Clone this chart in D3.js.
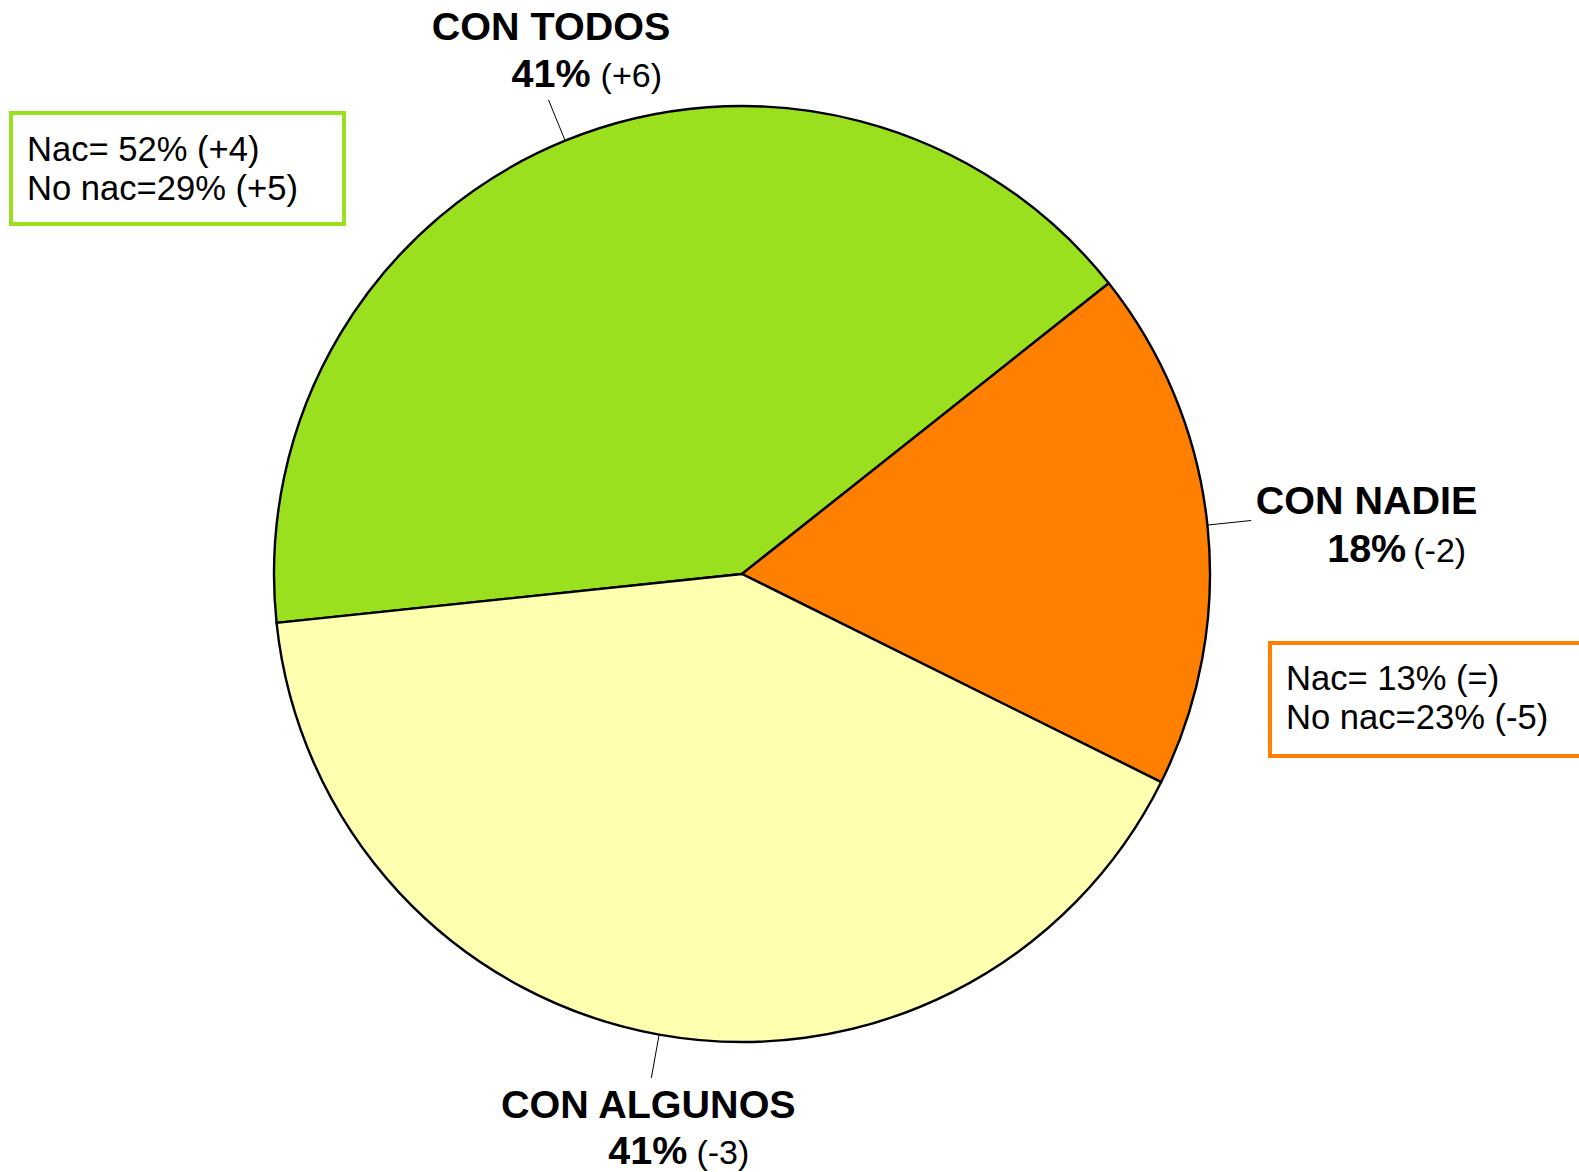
<!DOCTYPE html>
<html>
<head>
<meta charset="utf-8">
<script src="https://cdn.jsdelivr.net/npm/d3@7"></script>
<style>
  html, body { margin: 0; padding: 0; background: #ffffff; }
  svg { display: block; }
  text { font-family: "Liberation Sans", Arial, sans-serif; fill: #000; }
</style>
</head>
<body>
<svg id="chart" width="1579" height="1172"></svg>
<script>
// ---- data ----
const categories = ["CON TODOS", "CON NADIE", "CON ALGUNOS"];
const values = [41, 18, 41];
const changes = ["(+6)", "(-2)", "(-3)"];
const colors = ["#9be01e", "#ff8000", "#ffffb0"];
const boxLines = [
  ["Nac= 52% (+4)", "No nac=29% (+5)"],
  ["Nac= 13% (=)", "No nac=23% (-5)"]
];
const boxColors = ["#9be01e", "#ff8000"];

// ---- layout ----
const cx = 742, cy = 574, R = 468;
const svg = d3.select("#chart");
const g = svg.append("g").attr("transform", `translate(${cx},${cy})`);

const startA = -96 * Math.PI / 180;
const pie = d3.pie().sort(null).value(d => d)
  .startAngle(startA).endAngle(startA + 2 * Math.PI);
const arcs = pie(values);
const arc = d3.arc().innerRadius(0).outerRadius(R);

g.selectAll("path.slice").data(arcs).join("path")
  .attr("class", "slice")
  .attr("d", arc)
  .attr("fill", (d, i) => colors[i])
  .attr("stroke", "#000")
  .attr("stroke-width", 2.4)
  .attr("stroke-linejoin", "round");

// leader lines
const leaderOuter = 512;
function pt(a, r) { return [Math.sin(a) * r, -Math.cos(a) * r]; }
const mids = arcs.map(d => (d.startAngle + d.endAngle) / 2);
g.selectAll("line.leader").data(mids).join("line")
  .attr("class", "leader")
  .attr("x1", a => pt(a, R)[0]).attr("y1", a => pt(a, R)[1])
  .attr("x2", a => pt(a, leaderOuter)[0]).attr("y2", a => pt(a, leaderOuter)[1])
  .attr("stroke", "#000").attr("stroke-width", 1);

// labels (positions relative to leader ends)
const ends = mids.map(a => { const p = pt(a, leaderOuter); return [p[0] + cx, p[1] + cy]; });
const labelSpec = [
  { anchor: "middle", dx1: 2.5, dy1: -60, dx2: -37, dy2: -13, gap: 10 },
  { anchor: "start", dx1: 4.5, dy1: -6, dx2: 76, dy2: 42, gap: 7 },
  { anchor: "middle", dx1: -3, dy1: 40, dx2: -43, dy2: 86, gap: 9 }
];
categories.forEach((c, i) => {
  const e = ends[i], s = labelSpec[i];
  svg.append("text")
    .attr("x", e[0] + s.dx1).attr("y", e[1] + s.dy1)
    .attr("text-anchor", s.anchor)
    .attr("font-size", 39.5).attr("font-weight", "bold")
    .text(c);
  const t = svg.append("text")
    .attr("x", e[0] + s.dx2).attr("y", e[1] + s.dy2)
    .attr("text-anchor", "start");
  t.append("tspan").attr("font-size", 39.5).attr("font-weight", "bold").text(values[i] + "%");
  t.append("tspan").attr("font-size", 34).attr("dx", s.gap).text(changes[i]);
});

// boxes
const boxes = [
  { x: 11, y: 113, w: 333, h: 111, tx: 27, ty: 161 },
  { x: 1270, y: 643, w: 340, h: 113, tx: 1286, ty: 690 }
];
boxes.forEach((b, i) => {
  svg.append("rect")
    .attr("x", b.x).attr("y", b.y).attr("width", b.w).attr("height", b.h)
    .attr("fill", "#fff").attr("stroke", boxColors[i]).attr("stroke-width", 4);
  boxLines[i].forEach((ln, j) => {
    svg.append("text")
      .attr("x", b.tx).attr("y", b.ty + j * 39)
      .attr("font-size", 34.6)
      .text(ln);
  });
});
</script>
</body>
</html>
